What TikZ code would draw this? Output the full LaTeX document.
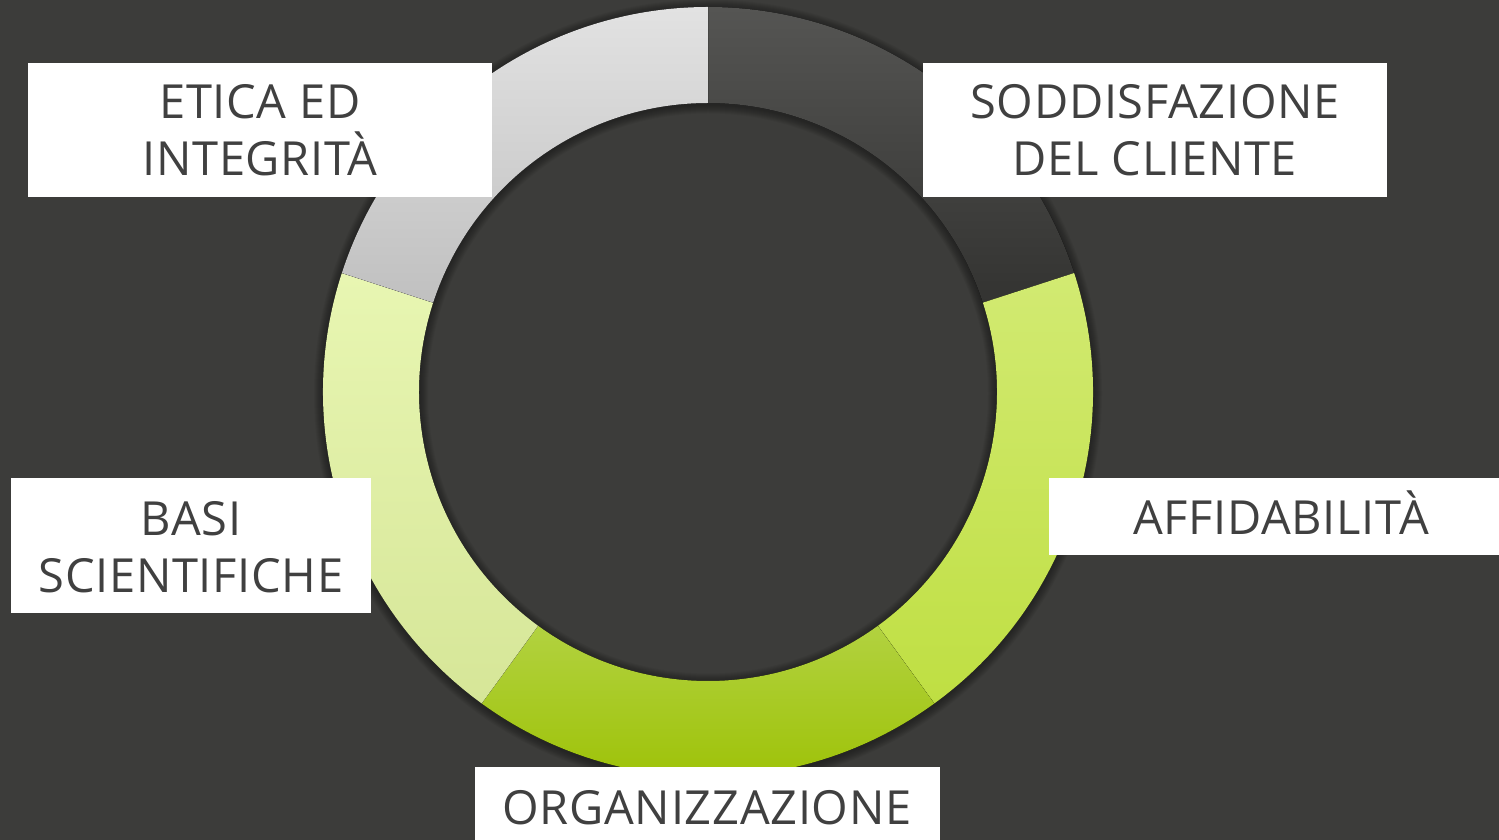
\documentclass[tikz,border=0pt]{standalone}
\usepackage{fontspec}
\setmainfont{Open Sans}[LetterSpace=1.5]
\usetikzlibrary{calc}
\definecolor{bg}{HTML}{3C3C3A}
\definecolor{txt}{HTML}{404040}
\definecolor{dkT}{HTML}{555553}\definecolor{dkB}{HTML}{333331}
\definecolor{grT}{HTML}{E2E2E2}\definecolor{grB}{HTML}{C0C0C0}
\definecolor{rgT}{HTML}{D2EA72}\definecolor{rgB}{HTML}{BFDF42}
\definecolor{bgT}{HTML}{B2D240}\definecolor{bgB}{HTML}{9BC000}
\definecolor{pgT}{HTML}{E8F6B2}\definecolor{pgB}{HTML}{D6E698}
\tikzset{
  labelbox/.style={fill=white, draw=none, inner sep=0pt, rectangle},
  lbl/.style={text=txt, font=\fontsize{47}{57}\selectfont, align=center, inner sep=0pt, anchor=base},
}
\newcommand{\seg}[4]{% a1 a2 topcolor bottomcolor
  \fill[top color=#3, bottom color=#4] ($(C)+(#1:385)$) arc[start angle=#1, end angle=#2, radius=385]
    -- ($(C)+(#2:289)$) arc[start angle=#2, end angle=#1, radius=289] -- cycle;}
\begin{document}
\begin{tikzpicture}[x=1pt,y=1pt]
\fill[bg] (0,0) rectangle (1499,840);
\useasboundingbox (0,0) rectangle (1499,840);
\coordinate (C) at (708,448);
% soft shadow around the ring
\foreach \i in {1,...,9}{
  \fill[black, opacity=0.045, even odd rule] ($(C)+(0,-1.5)$) circle[radius=385+\i] ($(C)+(0,-1.5)$) circle[radius=289-\i];
}
% ring segments
\seg{90}{18}{dkT}{dkB}
\seg{18}{-54}{rgT}{rgB}
\seg{-54}{-126}{bgT}{bgB}
\seg{-126}{-198}{pgT}{pgB}
\seg{162}{90}{grT}{grB}
% label boxes
\node[labelbox, minimum width=464, minimum height=134] (b1) at (260,710) {};
\node[labelbox, minimum width=464, minimum height=134] (b2) at (1155,710) {};
\node[labelbox, minimum width=464, minimum height=77] (b3) at (1281,323.5) {};
\node[labelbox, minimum width=360, minimum height=135] (b4) at (191,294.5) {};
\node[labelbox, minimum width=465, minimum height=78] (b5) at (707.5,34) {};
% labels (anchor = baseline of last line)
\node[lbl] (t1) at (260,664) {ETICA ED\\INTEGRITÀ};
\node[lbl] (t2) at (1155,664) {SODDISFAZIONE\\DEL CLIENTE};
\node[lbl] (t3) at (1281,305) {AFFIDABILITÀ};
\node[lbl] (t4) at (191,247) {BASI\\SCIENTIFICHE};
\node[lbl] (t5) at (707,15) {ORGANIZZAZIONE};
\end{tikzpicture}
\end{document}
